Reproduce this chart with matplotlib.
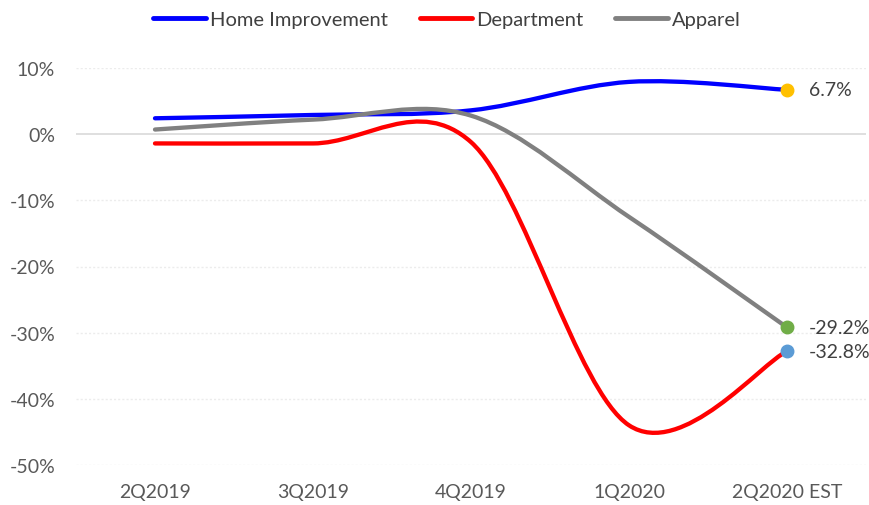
import matplotlib
matplotlib.use("Agg")
import matplotlib.pyplot as plt
from matplotlib.path import Path
from matplotlib.patches import PathPatch
from matplotlib.lines import Line2D
import numpy as np

categories = ["2Q2019", "3Q2019", "4Q2019", "1Q2020", "2Q2020 EST"]
home_improvement = [2.4, 2.9, 3.6, 7.9, 6.7]
department = [-1.4, -1.4, -1.2, -44.0, -32.8]
apparel = [0.7, 2.2, 2.8, -12.5, -29.2]
series_names = ["Home Improvement", "Department", "Apparel"]
end_labels = ["6.7%", "-32.8%", "-29.2%"]

line_colors = ["#0000ff", "#ff0000", "#808080"]
marker_colors = ["#ffc000", "#5b9bd5", "#70ad47"]

plt.rcParams['font.family'] = ['Lato', 'DejaVu Sans']

fig = plt.figure(figsize=(8.69, 5.06), dpi=100)
ax = fig.add_axes([76/869, 40/506, 790/869, 397/506])


def smooth_path(ys):
    # Excel-like smoothed line: cubic Bezier with Catmull-Rom control points
    xs = np.arange(len(ys), dtype=float)
    pts = np.column_stack([xs, np.asarray(ys, dtype=float)])
    n = len(pts)
    verts = [pts[0]]
    codes = [Path.MOVETO]
    for i in range(n - 1):
        p_prev = pts[i - 1] if i > 0 else pts[i]
        p0 = pts[i]
        p1 = pts[i + 1]
        p_next = pts[i + 2] if i + 2 < n else pts[i + 1]
        c1 = p0 + (p1 - p_prev) / 6.0
        c2 = p1 - (p_next - p0) / 6.0
        verts += [c1, c2, p1]
        codes += [Path.CURVE4] * 3
    return Path(verts, codes)


all_series = [home_improvement, department, apparel]
for ys, col in zip(all_series, line_colors):
    patch = PathPatch(smooth_path(ys), facecolor="none", edgecolor=col,
                      lw=3.1, capstyle="round", joinstyle="round", zorder=3)
    ax.add_patch(patch)

# end markers and labels
last = len(categories) - 1
for ys, mcol, lab in zip(all_series, marker_colors, end_labels):
    ax.plot([last], [ys[-1]], "o", color=mcol, markersize=9, zorder=4, clip_on=False)
    ax.text(last + 0.14, ys[-1], lab, ha="left", va="center", fontsize=14,
            color="#404040", clip_on=False)

ax.set_xlim(-0.5, 4.5)
ax.set_ylim(-50, 10)
ax.set_xticks(range(len(categories)))
ax.set_xticklabels(categories)
yt = [10, 0, -10, -20, -30, -40, -50]
ax.set_yticks(yt)
ax.set_yticklabels([f"{v}%" for v in yt])
ax.tick_params(axis="both", length=0, labelsize=14, labelcolor="#595959")
ax.tick_params(axis="x", pad=13)
ax.tick_params(axis="y", pad=15)

for v in yt:
    if v == 0:
        ax.axhline(v, color="#d9d9d9", lw=1.2, zorder=1)
    else:
        ax.axhline(v, color="#ececec", lw=1.0, ls=(0, (1.5, 1.5)), zorder=1)

for s in ax.spines.values():
    s.set_visible(False)

handles = [Line2D([0], [0], color=c, lw=3.5, solid_capstyle="round") for c in line_colors]
fig.legend(handles, series_names, loc="center", bbox_to_anchor=(447/869, 1 - 20/506),
           ncol=3, frameon=False, fontsize=14.5, handlelength=2.6, handletextpad=0.2,
           columnspacing=1.6, labelcolor="#404040")

fig.savefig("out.png", dpi=100, facecolor="white")
